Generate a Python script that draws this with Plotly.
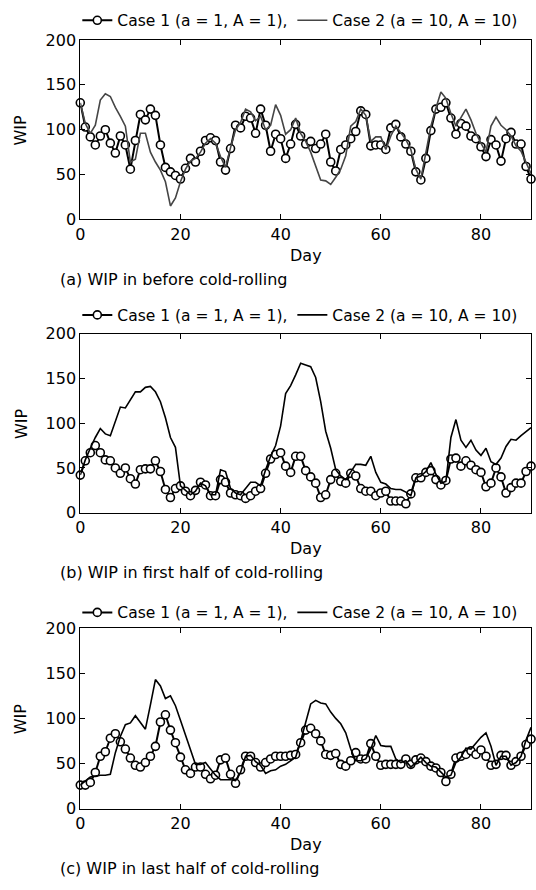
import plotly.graph_objects as go

days = list(range(91))

# (a) before cold-rolling
a_case1 = [130, 103, 92, 83, 93, 100, 85, 74, 93, 83,
           56, 88, 117, 111, 123, 116, 83, 58, 53, 49,
           45, 57, 68, 64, 76, 88, 91, 88, 64, 55,
           79, 105, 102, 115, 113, 96, 123, 105, 76, 95,
           90, 68, 84, 106, 93, 84, 87, 79, 84, 95,
           64, 54, 78, 83, 90, 98, 121, 117, 82, 83,
           83, 78, 102, 106, 92, 84, 76, 53, 44, 68,
           99, 123, 125, 130, 113, 95, 107, 104, 93, 90,
           81, 70, 89, 83, 65, 90, 97, 84, 84, 59,
           45]
a_case2 = [130, 107, 96, 105, 133, 140, 137, 125, 115, 104,
           64, 67, 96, 96, 75, 64, 55, 42, 15, 24,
           42, 56, 65, 68, 75, 85, 90, 85, 70, 58,
           80, 100, 108, 123, 120, 110, 115, 100, 105, 128,
           116, 95, 100, 113, 96, 87, 75, 60, 44, 43,
           39, 47, 56, 71, 104, 109, 123, 116, 87, 92,
           92, 78, 93, 104, 96, 89, 78, 56, 45, 75,
           104, 124, 142, 135, 118, 104, 113, 123, 111, 96,
           85, 75, 104, 114, 105, 100, 93, 82, 76, 64,
           51]

# (b) first half of cold-rolling
b_case1 = [42, 58, 67, 75, 67, 59, 58, 50, 44, 50,
           38, 32, 48, 49, 49, 58, 46, 26, 17, 27,
           30, 24, 19, 25, 34, 31, 19, 19, 37, 34,
           22, 20, 19, 16, 19, 24, 27, 44, 60, 65,
           67, 52, 45, 63, 63, 47, 40, 33, 17, 20,
           37, 44, 35, 33, 44, 41, 27, 24, 24, 19,
           22, 24, 13, 13, 13, 10, 21, 39, 39, 45,
           47, 37, 31, 36, 60, 61, 52, 58, 53, 48,
           45, 29, 33, 50, 40, 22, 28, 33, 33, 46,
           52]
b_case2 = [42, 59, 72, 84, 94, 88, 86, 102, 118, 117,
           126, 135, 135, 140, 141, 135, 124, 106, 84, 73,
           30, 25, 20, 24, 33, 30, 20, 20, 48, 46,
           27, 22, 20, 27, 34, 34, 30, 48, 63, 75,
           97, 133, 142, 154, 167, 165, 163, 151, 124, 91,
           72, 48, 41, 37, 46, 54, 54, 53, 63, 45,
           34, 32, 27, 26, 26, 23, 19, 39, 41, 46,
           56, 43, 33, 35, 84, 104, 81, 73, 81, 70,
           64, 72, 57, 54, 61, 74, 82, 81, 86, 91,
           95]

# (c) last half of cold-rolling
c_case1 = [26, 26, 29, 40, 58, 63, 78, 83, 74, 66,
           56, 48, 46, 51, 58, 69, 96, 104, 87, 73,
           57, 43, 39, 46, 46, 38, 33, 37, 54, 56,
           38, 28, 43, 58, 58, 51, 46, 51, 55, 58,
           58, 58, 59, 60, 73, 87, 89, 83, 75, 60,
           59, 61, 49, 47, 53, 62, 55, 55, 72, 58,
           48, 49, 49, 49, 49, 55, 49, 54, 56, 52,
           47, 45, 40, 30, 38, 56, 58, 60, 64, 60,
           65, 58, 48, 49, 59, 59, 48, 52, 58, 71,
           77]
c_case2 = [26, 30, 35, 36, 37, 37, 38, 62, 80, 93,
           95, 103, 95, 88, 115, 143, 136, 122, 125, 114,
           98, 82, 66, 49, 49, 51, 44, 37, 32, 32,
           32, 31, 40, 58, 59, 52, 48, 39, 42, 43,
           47, 49, 53, 57, 75, 95, 116, 120, 117, 116,
           107, 100, 94, 84, 66, 53, 53, 55, 66, 81,
           70, 69, 69, 55, 51, 53, 46, 51, 57, 51,
           47, 46, 40, 35, 37, 51, 57, 67, 66, 73,
           79, 84, 69, 48, 58, 58, 48, 51, 58, 76,
           90]

captions = ["(a) WIP in before cold-rolling",
            "(b) WIP in first half of cold-rolling",
            "(c) WIP in last half of cold-rolling"]
case1_name = "Case 1 (a = 1, A = 1),"
case2_name = "Case 2 (a = 10, A = 10)"

W, H = 536, 890
FONT = "DejaVu Sans"

def py(px):
    # pixel from top -> paper fraction
    return 1 - px / H

panels = [
    # case1, case2, case2 colour, plot top px, plot bottom px, legend y px
    (a_case1, a_case2, "#454545", 31.7, 215, 12),
    (b_case1, b_case2, "black", 331.7, 514.7, 313),
    (c_case1, c_case2, "black", 632.7, 817, 617),
]

fig = go.Figure()
annotations = []
x_dom = [76 / W, 531 / W]

for i, (c1, c2, col2, top, bot, leg_y) in enumerate(panels):
    n = "" if i == 0 else str(i + 1)
    leg = "legend" + n
    fig.add_trace(go.Scatter(x=days, y=c1, name=case1_name, mode="lines+markers",
                             line=dict(color="black", width=2),
                             marker=dict(symbol="circle", size=8, color="white",
                                         line=dict(color="black", width=1.6)),
                             cliponaxis=False, xaxis="x" + n, yaxis="y" + n, legend=leg))
    fig.add_trace(go.Scatter(x=days, y=c2, name=case2_name, mode="lines",
                             line=dict(color=col2, width=1.6),
                             cliponaxis=False, xaxis="x" + n, yaxis="y" + n, legend=leg))

    axis = dict(showline=True, linecolor="black", linewidth=1, mirror="ticks",
                ticks="inside", ticklen=5, tickcolor="black", showgrid=False,
                zeroline=False, tickfont=dict(family=FONT, size=16, color="black"))
    fig.update_layout({
        "xaxis" + n: dict(axis, domain=x_dom, range=[0, 90], tickvals=[0, 20, 40, 60, 80],
                          anchor="y" + n),
        "yaxis" + n: dict(axis, domain=[py(bot), py(top)], range=[0, 200], dtick=50,
                          anchor="x" + n),
        leg: dict(orientation="h", x=73 / W, xanchor="left", y=py(leg_y), yanchor="middle",
                  bgcolor="rgba(0,0,0,0)", font=dict(family=FONT, size=15.5, color="black")),
    })

    annotations.append(dict(text="Day", x=(x_dom[0] + x_dom[1]) / 2, y=py(bot + 37),
                            xref="paper", yref="paper", showarrow=False,
                            xanchor="center", yanchor="middle",
                            font=dict(family=FONT, size=16, color="black")))
    annotations.append(dict(text="WIP", x=16 / W, y=py((top + bot) / 2), textangle=-90,
                            xref="paper", yref="paper", showarrow=False,
                            xanchor="center", yanchor="middle",
                            font=dict(family=FONT, size=16, color="black")))
    annotations.append(dict(text=captions[i], x=53 / W, y=py(bot + 61),
                            xref="paper", yref="paper", showarrow=False,
                            xanchor="left", yanchor="middle",
                            font=dict(family=FONT, size=16, color="black")))

fig.update_layout(width=W, height=H, margin=dict(l=0, r=0, t=0, b=0),
                  plot_bgcolor="white", paper_bgcolor="white",
                  annotations=annotations, showlegend=True)

# page body has a default margin that would shift the figure
fig.write_html("out.html", config={"displayModeBar": False},
               post_script="document.body.style.margin='0';document.body.style.overflow='hidden';")
